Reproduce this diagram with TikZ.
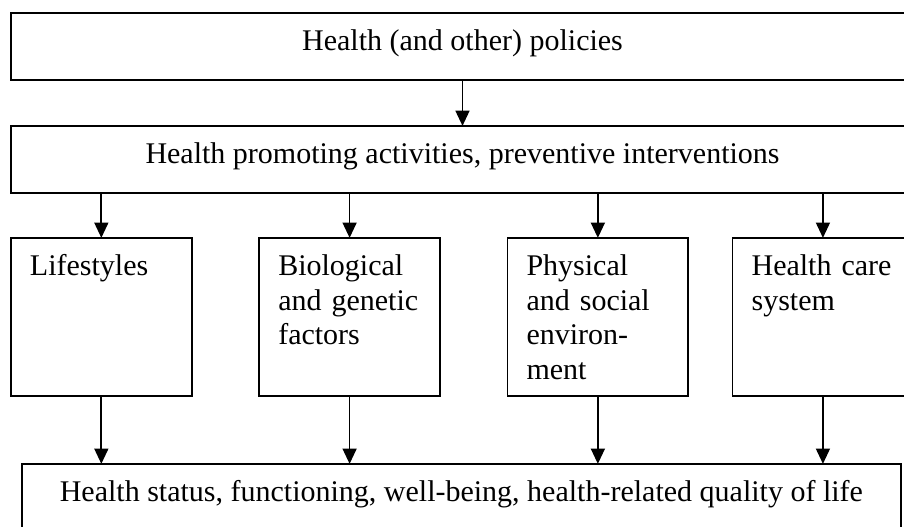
\documentclass[tikz,border=0pt]{standalone}
\usepackage{fontspec}
\setmainfont{Liberation Serif}
\usetikzlibrary{positioning,arrows.meta}

\begin{document}
\begin{tikzpicture}[
    widebox/.style={rectangle, draw=black, line width=1.3pt, inner sep=0pt, outer sep=0pt, minimum width=677.25pt, text height=28.1pt, text depth=22.1pt, font=\fontsize{22.5pt}{25.9pt}\selectfont},
    tallbox/.style={rectangle, draw=black, line width=1.3pt, inner xsep=14.25pt, inner ysep=0pt, outer sep=0pt, text width=107pt, align=left, text height=28.5pt, text depth=90pt, font=\fontsize{22.5pt}{25.9pt}\selectfont},
    arr/.style={-{Triangle[width=10.5pt,length=11.5pt]}, line width=1.3pt}
]
    \useasboundingbox (0,0) rectangle (678pt,-395.25pt);

    % Policies at the top
    \node [widebox, anchor=north west] (policies) at (8.25pt,-9.75pt) {Health (and other) policies};

    % Promotion and prevention
    \node [widebox, below=34.5pt of policies] (promo) {Health promoting activities, preventive interventions};

    % The four determinants in the middle row
    \node [tallbox, below=33.75pt of promo.south west, anchor=north west] (lifestyles) {Lifestyles};
    \node [tallbox, right=50.7pt of lifestyles] (biology) {Biological\\and genetic\\factors};
    \node [tallbox, right=50.7pt of biology] (environment) {Physical\\and social\\environ-\\ment};
    \node [tallbox, right=33.3pt of environment] (care) {Health care\\system};

    % Outcomes at the bottom
    \node [widebox, minimum width=659.5pt, below=51pt of lifestyles.south west, anchor=north west, xshift=8pt] (status) {Health status, functioning, well-being, health-related quality of life};

    % Arrows
    \draw [arr] (policies) -- (promo);

    \draw [arr] (promo.south -| lifestyles.north) -- (lifestyles);
    \draw [arr] (promo.south -| biology.north) -- (biology);
    \draw [arr] (promo.south -| environment.north) -- (environment);
    \draw [arr] (promo.south -| care.north) -- (care);

    \draw [arr] (lifestyles) -- (lifestyles.south |- status.north);
    \draw [arr] (biology) -- (biology.south |- status.north);
    \draw [arr] (environment) -- (environment.south |- status.north);
    \draw [arr] (care) -- (care.south |- status.north);

\end{tikzpicture}
\end{document}
